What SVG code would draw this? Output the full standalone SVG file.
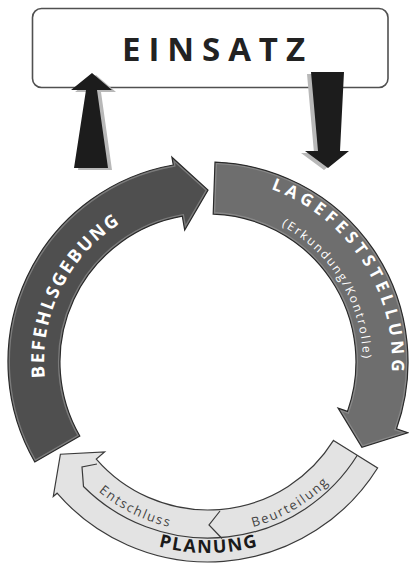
<svg xmlns="http://www.w3.org/2000/svg" width="409" height="565" viewBox="0 0 409 565">
<style>
.dark{stroke:#2a2a2a;stroke-width:1.2;stroke-linejoin:miter}
.hl{fill:none;stroke:#9a9a9a;stroke-width:4;opacity:0.6}
.wt{fill:#ffffff;font-family:"Open Sans","Liberation Sans",sans-serif}
.pl{font-family:"Open Sans","Liberation Sans",sans-serif}
.big{font-weight:700}
.shadow{fill:#b8b8b8}
.blk{fill:#1c1c1c}
</style>
<defs>
<path id="pBef" d="M 34.8 462 A 200 200 0 0 1 173.3 165 L 171.9 157.2 L 208 190 L 184.7 230 L 182.3 216.2 A 148 148 0 0 0 79.8 436 Z"/>
<path id="pLage" d="M 215 162.1 A 200 200 0 0 1 396.5 428.8 L 407.8 432.8 L 361.9 447.3 L 338.1 408.1 L 347.5 411.4 A 148 148 0 0 0 213.2 214.1 Z"/>
<clipPath id="cBef"><use href="#pBef"/></clipPath>
<clipPath id="cLage"><use href="#pLage"/></clipPath>
<path id="tpBef" d="M 66 444 A 164 164 0 0 1 185.2 199.6"/>
<path id="tpLage" d="M 208 178 A 184 184 0 0 1 377.4 433.9"/>
<path id="tpErk" d="M 208 207 A 155 155 0 0 1 346.1 432.4"/>
<path id="tpEnt" d="M 61.2 446.75 A 169.5 169.5 0 0 0 226.9 530.4"/>
<path id="tpBeu" d="M 208 533 A 171 171 0 0 0 356.1 447.5"/>
<path id="tpPlan" d="M 112.5 527.4 A 191 191 0 0 0 303.5 527.4"/>
</defs>
<g id="einsatz">
<rect x="32.5" y="8.5" width="355.5" height="79" rx="9" fill="#ffffff" stroke="#505050" stroke-width="1.6"/>
<text x="122" y="61" font-family="Open Sans, Liberation Sans, sans-serif" font-size="33" font-weight="700" fill="#222" textLength="183" lengthAdjust="spacing">EINSATZ</text>
</g>
<g id="connectors">
<path class="shadow" transform="translate(4,2)" d="M 92 73 L 112 90 L 97 90 L 108 168 L 74 168 L 86 90 L 71 90 Z"/>
<path class="blk" d="M 92 73 L 112 90 L 97 90 L 108 168 L 74 168 L 86 90 L 71 90 Z"/>
<path class="shadow" transform="translate(-4,2)" d="M 311 72 L 344 72 L 340 151 L 349 151 L 328 168 L 305 151 L 318 151 Z"/>
<path class="blk" d="M 311 72 L 344 72 L 340 151 L 349 151 L 328 168 L 305 151 L 318 151 Z"/>
</g>
<g id="befehlsgebung">
<use href="#pBef" fill="#4f4f4f"/>
<use href="#pBef" class="hl" clip-path="url(#cBef)"/>
<use href="#pBef" class="dark" fill="none"/>
<text class="wt big" font-size="18"><textPath href="#tpBef" startOffset="50%" text-anchor="middle" textLength="180" lengthAdjust="spacing">BEFEHLSGEBUNG</textPath></text>
</g>
<g id="lagefeststellung">
<use href="#pLage" fill="#6e6e6e"/>
<use href="#pLage" class="hl" clip-path="url(#cLage)"/>
<use href="#pLage" class="dark" fill="none"/>
<text class="wt big" font-size="17"><textPath href="#tpLage" startOffset="50%" text-anchor="middle" textLength="234" lengthAdjust="spacing">LAGEFESTSTELLUNG</textPath></text>
<text class="wt" font-size="12"><textPath href="#tpErk" startOffset="50%" text-anchor="middle" textLength="163" lengthAdjust="spacing">(Erkundung/Kontrolle)</textPath></text>
</g>
<g id="planung">
<path fill="#e3e3e3" stroke="#3a3a3a" stroke-width="1.2" d="M 333.5 440.4 L 377.6 468 A 200 200 0 0 1 57.1 493.2 L 53.3 496.5 L 60.4 454.2 L 104.6 451.9 L 96.3 459.1 A 148 148 0 0 0 333.5 440.4 Z"/>
<path fill="none" stroke="#3a3a3a" stroke-width="1.2" d="M 357.3 455.3 A 176 176 0 0 1 83.5 486.5 L 82 467 L 97 464"/>
<path fill="none" stroke="#3a3a3a" stroke-width="1.2" d="M 220 511 L 209 525 L 222 538.5"/>
<text class="pl" font-size="13" fill="#444"><textPath href="#tpEnt" startOffset="50%" text-anchor="middle" textLength="79" lengthAdjust="spacing">Entschluss</textPath></text>
<text class="pl" font-size="13" fill="#444"><textPath href="#tpBeu" startOffset="50%" text-anchor="middle" textLength="88" lengthAdjust="spacing">Beurteilung</textPath></text>
<text class="pl big" font-size="18" fill="#1a1a1a"><textPath href="#tpPlan" startOffset="50%" text-anchor="middle" textLength="100" lengthAdjust="spacing">PLANUNG</textPath></text>
</g>
</svg>
